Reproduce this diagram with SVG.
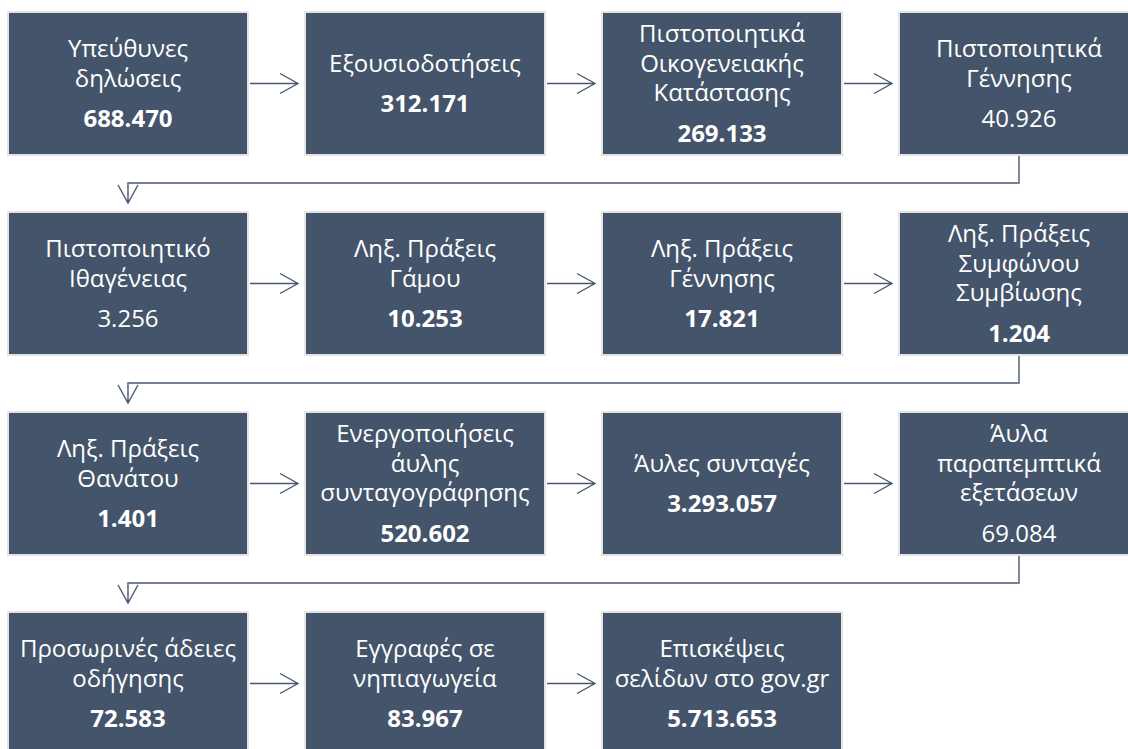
<svg xmlns="http://www.w3.org/2000/svg" width="1128" height="749" viewBox="0 0 1128 749">
<defs>
<style>
.box{fill:#44546a;stroke:#e4e4e4;stroke-width:2}
.t{font-family:"Open Sans","Noto Sans","DejaVu Sans",sans-serif;font-size:24px;fill:#ffffff;text-anchor:middle}
.b{font-weight:bold}
.c{fill:none;stroke:#4a5970;stroke-width:1.4}
</style>
</defs>
<rect width="1128" height="749" fill="#ffffff"/>
<g id="connectors">
<path class="c" d="M250,83.5H298M280,73.5L298,83.5L280,93.5"/>
<path class="c" d="M547,83.5H595M577,73.5L595,83.5L577,93.5"/>
<path class="c" d="M844,83.5H892M874,73.5L892,83.5L874,93.5"/>
<path class="c" d="M1019,156V183H128V203M118,185L128,203L138,185"/>
<path class="c" d="M250,283.5H298M280,273.5L298,283.5L280,293.5"/>
<path class="c" d="M547,283.5H595M577,273.5L595,283.5L577,293.5"/>
<path class="c" d="M844,283.5H892M874,273.5L892,283.5L874,293.5"/>
<path class="c" d="M1019,356V383H128V403M118,385L128,403L138,385"/>
<path class="c" d="M250,483.5H298M280,473.5L298,483.5L280,493.5"/>
<path class="c" d="M547,483.5H595M577,473.5L595,483.5L577,493.5"/>
<path class="c" d="M844,483.5H892M874,473.5L892,483.5L874,493.5"/>
<path class="c" d="M1019,556V583H128V603M118,585L128,603L138,585"/>
<path class="c" d="M250,683.5H298M280,673.5L298,683.5L280,693.5"/>
<path class="c" d="M547,683.5H595M577,673.5L595,683.5L577,693.5"/>
</g>
<g id="n1"><rect class="box" x="8" y="12" width="240" height="143"/>
<text class="t" x="128" y="57">Υπεύθυνες</text><text class="t" x="128" y="86.5">δηλώσεις</text><text class="t b" x="128" y="127">688.470</text></g>
<g id="n2"><rect class="box" x="305" y="12" width="240" height="143"/>
<text class="t" x="425" y="71.75">Εξουσιοδοτήσεις</text><text class="t b" x="425" y="112.25">312.171</text></g>
<g id="n3"><rect class="box" x="602" y="12" width="240" height="143"/>
<text class="t" x="722" y="42.25">Πιστοποιητικά</text><text class="t" x="722" y="71.75">Οικογενειακής</text><text class="t" x="722" y="101.25">Κατάστασης</text><text class="t b" x="722" y="141.75">269.133</text></g>
<g id="n4"><rect class="box" x="899" y="12" width="240" height="143"/>
<text class="t" x="1019" y="57">Πιστοποιητικά</text><text class="t" x="1019" y="86.5">Γέννησης</text><text class="t" x="1019" y="127">40.926</text></g>
<g id="n5"><rect class="box" x="8" y="212" width="240" height="143"/>
<text class="t" x="128" y="257">Πιστοποιητικό</text><text class="t" x="128" y="286.5">Ιθαγένειας</text><text class="t" x="128" y="327">3.256</text></g>
<g id="n6"><rect class="box" x="305" y="212" width="240" height="143"/>
<text class="t" x="425" y="257">Ληξ. Πράξεις</text><text class="t" x="425" y="286.5">Γάμου</text><text class="t b" x="425" y="327">10.253</text></g>
<g id="n7"><rect class="box" x="602" y="212" width="240" height="143"/>
<text class="t" x="722" y="257">Ληξ. Πράξεις</text><text class="t" x="722" y="286.5">Γέννησης</text><text class="t b" x="722" y="327">17.821</text></g>
<g id="n8"><rect class="box" x="899" y="212" width="240" height="143"/>
<text class="t" x="1019" y="242.25">Ληξ. Πράξεις</text><text class="t" x="1019" y="271.75">Συμφώνου</text><text class="t" x="1019" y="301.25">Συμβίωσης</text><text class="t b" x="1019" y="341.75">1.204</text></g>
<g id="n9"><rect class="box" x="8" y="412" width="240" height="143"/>
<text class="t" x="128" y="457">Ληξ. Πράξεις</text><text class="t" x="128" y="486.5">Θανάτου</text><text class="t b" x="128" y="527">1.401</text></g>
<g id="n10"><rect class="box" x="305" y="412" width="240" height="143"/>
<text class="t" x="425" y="442.25">Ενεργοποιήσεις</text><text class="t" x="425" y="471.75">άυλης</text><text class="t" x="425" y="501.25">συνταγογράφησης</text><text class="t b" x="425" y="541.75">520.602</text></g>
<g id="n11"><rect class="box" x="602" y="412" width="240" height="143"/>
<text class="t" x="722" y="471.75">Άυλες συνταγές</text><text class="t b" x="722" y="512.25">3.293.057</text></g>
<g id="n12"><rect class="box" x="899" y="412" width="240" height="143"/>
<text class="t" x="1019" y="442.25">Άυλα</text><text class="t" x="1019" y="471.75">παραπεμπτικά</text><text class="t" x="1019" y="501.25">εξετάσεων</text><text class="t" x="1019" y="541.75">69.084</text></g>
<g id="n13"><rect class="box" x="8" y="612" width="240" height="143"/>
<text class="t" x="128" y="657">Προσωρινές άδειες</text><text class="t" x="128" y="686.5">οδήγησης</text><text class="t b" x="128" y="727">72.583</text></g>
<g id="n14"><rect class="box" x="305" y="612" width="240" height="143"/>
<text class="t" x="425" y="657">Εγγραφές σε</text><text class="t" x="425" y="686.5">νηπιαγωγεία</text><text class="t b" x="425" y="727">83.967</text></g>
<g id="n15"><rect class="box" x="602" y="612" width="240" height="143"/>
<text class="t" x="722" y="657">Επισκέψεις</text><text class="t" x="722" y="686.5">σελίδων στο gov.gr</text><text class="t b" x="722" y="727">5.713.653</text></g>
</svg>
